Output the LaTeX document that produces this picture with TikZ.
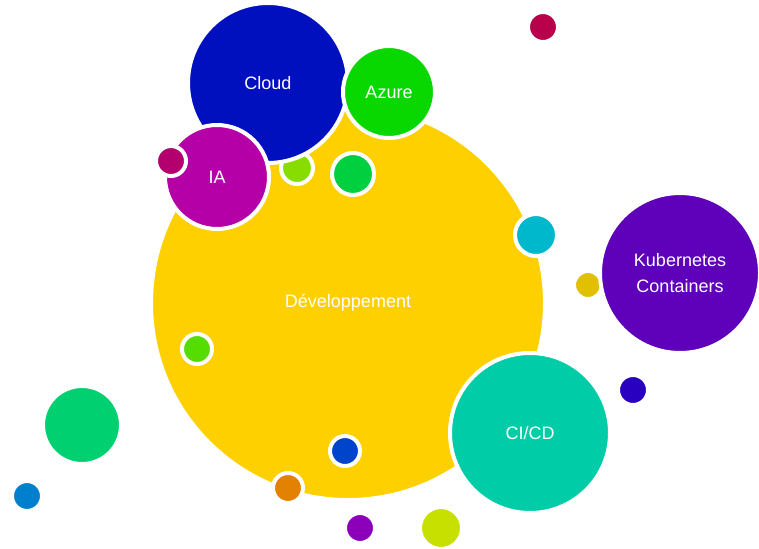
\documentclass[tikz,border=0pt]{standalone}
\usepackage{fontspec}
\setmainfont{Liberation Sans}
\begin{document}
\begin{tikzpicture}[x=1pt,y=-1pt,
  bubble/.style={circle,inner sep=0pt,draw=white,line width=4pt,text=white,font=\fontsize{18}{26}\selectfont,align=center},
  dot/.style={circle,inner sep=0pt,draw=white,line width=4pt}]
\useasboundingbox (0,0) rectangle (759,548);
\definecolor{cDev}{HTML}{FFD000}
\definecolor{cCloud}{HTML}{0010BF}
\definecolor{cAzure}{HTML}{08D800}
\definecolor{cIA}{HTML}{B500A8}
\definecolor{cKub}{HTML}{5F00BA}
\definecolor{cCICD}{HTML}{00CDA8}
\definecolor{cGreenL}{HTML}{00D070}
\definecolor{cBlueL}{HTML}{0080CC}
\definecolor{cCrimson}{HTML}{B8004B}
\definecolor{cOrange}{HTML}{E38200}
\definecolor{cPurple}{HTML}{8B00B8}
\definecolor{cNavy}{HTML}{2A00C0}
\definecolor{cYelS}{HTML}{E0C000}
\definecolor{cLimeY}{HTML}{C8E000}
\definecolor{cCyan}{HTML}{00B8CC}
\definecolor{cGreenI}{HTML}{00D040}
\definecolor{cLime}{HTML}{88DD00}
\definecolor{cBlueI}{HTML}{0044CC}
\definecolor{cGreenLI}{HTML}{55DD00}
\definecolor{cMag}{HTML}{B3006E}
\node[bubble,fill=cDev,minimum size=394pt] (dev) at (348,303) {Développement};
\node[dot,fill=cLime,minimum size=32pt] (lime) at (297,168) {};
\node[bubble,fill=cCloud,minimum size=160pt] (cloud) at (268,83) {Cloud};
\node[bubble,fill=cAzure,minimum size=92pt] (azure) at (389,92) {Azure};
\node[bubble,fill=cIA,minimum size=104pt] (ia) at (217,177) {IA};
\node[dot,fill=cMag,minimum size=30pt] (mag) at (171,161) {};
\node[dot,fill=cGreenI,minimum size=42pt] (greeni) at (353,174) {};
\node[dot,fill=cCyan,minimum size=42pt] (cyan) at (536,235) {};
\node[dot,fill=cYelS,minimum size=28pt] (yels) at (588,285) {};
\node[bubble,fill=cKub,minimum size=160pt] (kub) at (680,273) {Kubernetes\\Containers};
\node[dot,fill=cNavy,minimum size=30pt] (navy) at (633,390) {};
\node[bubble,fill=cCICD,minimum size=160pt] (cicd) at (530,433) {CI/CD};
\node[dot,fill=cLimeY,minimum size=42pt] (limey) at (441,528) {};
\node[dot,fill=cPurple,minimum size=30pt] (purple) at (360,528) {};
\node[dot,fill=cOrange,minimum size=30pt] (orange) at (288,488) {};
\node[dot,fill=cBlueI,minimum size=30pt] (bluei) at (345,451) {};
\node[dot,fill=cGreenLI,minimum size=30pt] (greenli) at (197,349) {};
\node[dot,fill=cGreenL,minimum size=78pt] (greenl) at (82,425) {};
\node[dot,fill=cBlueL,minimum size=30pt] (bluel) at (27,496) {};
\node[dot,fill=cCrimson,minimum size=30pt] (crimson) at (543,27) {};
\end{tikzpicture}
\end{document}
